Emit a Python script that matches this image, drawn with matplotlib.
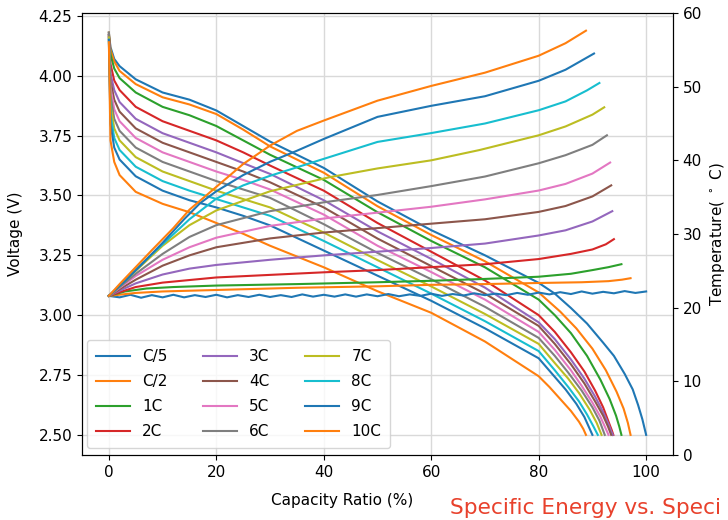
import numpy as np
import matplotlib
matplotlib.use("Agg")
import matplotlib.pyplot as plt

# discharge rates (legend order)
rates = ["C/5", "C/2", "1C", "2C", "3C", "4C", "5C", "6C", "7C", "8C", "9C", "10C"]
colors = ["C0", "C1", "C2", "C3", "C4", "C5", "C6", "C7", "C8", "C9", "C0", "C1"]

# voltage curves : capacity ratio (%) -> voltage (V)
head_x = [0, 0.3, 1, 2, 5, 10, 15, 20, 25, 30, 40, 50, 60, 70]

volt_cap = {
    "C/5": head_x + [80, 83, 86, 89, 92, 94, 96, 97.5, 98.5, 99.3, 100],
    "C/2": head_x + [80, 84, 87, 90, 92.5, 94.5, 95.8, 96.6, 97.1],
    "1C": head_x + [80, 83, 86, 89, 91.5, 93.2, 94.4, 95.0, 95.4],
    "2C": head_x + [80, 83, 86, 88.5, 90.5, 92, 93, 93.6, 93.9],
    "3C": head_x + [80, 83, 86, 88.5, 90.5, 92, 93, 93.5, 93.8],
    "4C": head_x + [80, 83, 86, 88.5, 90.5, 92, 92.9, 93.5],
    "5C": head_x + [80, 83, 86, 88, 90, 91.5, 92.4, 93.0],
    "6C": head_x + [80, 83, 85.5, 88, 90, 91.3, 92.3],
    "7C": head_x + [80, 83, 85.5, 87.5, 89.5, 90.8, 91.7],
    "8C": head_x + [80, 83, 85.5, 87.5, 89, 90.2, 91.0],
    "9C": head_x + [80, 82.5, 85, 87, 88.5, 89.4, 90.0],
    "10C": head_x + [80, 82, 84, 86, 87.5, 88.3, 88.8],
}

volt_val = {
    "C/5": [4.18, 4.12, 4.07, 4.04, 3.985, 3.93, 3.90, 3.855, 3.79, 3.725, 3.615, 3.475, 3.355, 3.25,
            3.135, 3.09, 3.03, 2.965, 2.885, 2.83, 2.755, 2.69, 2.625, 2.565, 2.50],
    "C/2": [4.18, 4.11, 4.06, 4.02, 3.965, 3.91, 3.88, 3.84, 3.775, 3.705, 3.595, 3.455, 3.335, 3.225,
            3.095, 3.015, 2.945, 2.86, 2.77, 2.68, 2.61, 2.55, 2.50],
    "1C": [4.17, 4.09, 4.03, 3.99, 3.93, 3.87, 3.835, 3.79, 3.73, 3.67, 3.565, 3.43, 3.31, 3.20,
           3.065, 3.00, 2.925, 2.83, 2.73, 2.65, 2.58, 2.535, 2.50],
    "2C": [4.17, 4.05, 3.98, 3.94, 3.87, 3.81, 3.77, 3.73, 3.68, 3.625, 3.52, 3.385, 3.265, 3.145,
           3.00, 2.93, 2.845, 2.765, 2.685, 2.615, 2.555, 2.52, 2.50],
    "3C": [4.17, 4.01, 3.94, 3.89, 3.82, 3.76, 3.72, 3.68, 3.635, 3.59, 3.48, 3.35, 3.235, 3.115,
           2.97, 2.90, 2.815, 2.735, 2.66, 2.595, 2.545, 2.515, 2.50],
    "4C": [4.16, 3.98, 3.90, 3.85, 3.78, 3.72, 3.68, 3.64, 3.60, 3.555, 3.45, 3.32, 3.205, 3.09,
           2.955, 2.88, 2.795, 2.715, 2.64, 2.58, 2.535, 2.50],
    "5C": [4.16, 3.95, 3.86, 3.81, 3.74, 3.68, 3.64, 3.60, 3.565, 3.525, 3.42, 3.29, 3.18, 3.065,
           2.93, 2.855, 2.77, 2.705, 2.635, 2.575, 2.53, 2.50],
    "6C": [4.18, 3.92, 3.82, 3.77, 3.70, 3.64, 3.60, 3.56, 3.525, 3.49, 3.38, 3.26, 3.15, 3.035,
           2.905, 2.83, 2.76, 2.685, 2.615, 2.56, 2.50],
    "7C": [4.16, 3.88, 3.78, 3.73, 3.66, 3.60, 3.56, 3.52, 3.485, 3.45, 3.345, 3.23, 3.12, 3.005,
           2.88, 2.80, 2.735, 2.675, 2.605, 2.55, 2.50],
    "8C": [4.15, 3.84, 3.74, 3.69, 3.62, 3.56, 3.52, 3.485, 3.45, 3.415, 3.31, 3.20, 3.09, 2.975,
           2.85, 2.77, 2.70, 2.64, 2.585, 2.535, 2.50],
    "9C": [4.15, 3.80, 3.70, 3.65, 3.58, 3.52, 3.48, 3.45, 3.415, 3.375, 3.27, 3.165, 3.06, 2.945,
           2.82, 2.755, 2.69, 2.63, 2.575, 2.53, 2.50],
    "10C": [4.14, 3.73, 3.64, 3.585, 3.515, 3.465, 3.43, 3.385, 3.34, 3.29, 3.20, 3.10, 3.01, 2.89,
            2.745, 2.70, 2.65, 2.60, 2.555, 2.525, 2.50],
}

# temperature curves : capacity ratio (%) -> temperature (deg C)
temp_cap = {
    "C/5": list(np.arange(0, 101, 2)),
    "C/2": [0, 5, 10, 20, 35, 50, 60, 70, 80, 88, 93, 95.5, 97.1],
    "1C": [0, 3, 7, 12, 20, 35, 50, 60, 70, 80, 86, 90, 93, 95.4],
    "2C": [0, 2, 5, 10, 20, 30, 40, 50, 60, 70, 80, 86, 90, 92.5, 94],
    "3C": [0, 2, 5, 10, 15, 20, 30, 40, 50, 60, 70, 80, 85, 90, 93.7],
    "4C": [0, 2, 5, 10, 15, 20, 30, 40, 50, 60, 70, 80, 85, 90, 93.5],
    "5C": [0, 2, 5, 10, 15, 20, 30, 40, 50, 60, 70, 80, 85, 90, 93.3],
    "6C": [0, 2, 5, 10, 15, 20, 30, 40, 50, 60, 70, 80, 85, 90, 92.7],
    "7C": [0, 2, 5, 10, 15, 20, 30, 41, 50, 60, 69, 80, 85, 90, 92.2],
    "8C": [0, 2, 5, 10, 15, 20, 25, 30, 40, 50, 60, 70, 80, 85, 89, 91.3],
    "9C": [0, 3, 6, 10, 14, 17, 20, 25, 30, 35, 40, 50, 60, 70, 80, 85, 90.3],
    "10C": [0, 2, 5, 8, 12, 15, 20, 25, 30, 35, 40, 50, 60, 70, 80, 85, 88.8],
}

temp_val = {
    "C/5": [21.6, 21.4, 21.75, 21.35, 21.7, 21.4, 21.75, 21.4, 21.7, 21.45,
            21.75, 21.4, 21.7, 21.45, 21.75, 21.45, 21.7, 21.45, 21.8, 21.5,
            21.75, 21.5, 21.8, 21.5, 21.8, 21.55, 21.85, 21.55, 21.8, 21.6,
            21.9, 21.6, 21.85, 21.65, 21.95, 21.7, 21.9, 21.7, 22.0, 21.75,
            22.05, 21.8, 22.1, 21.85, 22.2, 21.9, 22.15, 21.95, 22.25, 22.0,
            22.2],
    "C/2": [21.6, 22.0, 22.2, 22.4, 22.7, 22.9, 23.1, 23.2, 23.35, 23.45, 23.6, 23.8, 24.0],
    "1C": [21.6, 22.2, 22.6, 22.8, 23.0, 23.2, 23.45, 23.65, 23.9, 24.2, 24.6, 25.1, 25.5, 25.9],
    "2C": [21.6, 22.1, 22.8, 23.4, 24.1, 24.45, 24.8, 25.1, 25.5, 25.9, 26.6, 27.3, 27.9, 28.6, 29.3],
    "3C": [21.6, 22.3, 23.3, 24.5, 25.3, 25.8, 26.5, 27.1, 27.6, 28.1, 28.7, 29.8, 30.5, 31.7, 33.1],
    "4C": [21.6, 22.5, 23.8, 25.7, 27.1, 28.2, 29.4, 30.2, 30.8, 31.4, 32.0, 33.0, 33.8, 35.1, 36.6],
    "5C": [21.6, 22.7, 24.3, 26.5, 28.2, 29.5, 31.1, 32.1, 32.9, 33.7, 34.7, 35.9, 36.8, 38.2, 39.7],
    "6C": [21.6, 22.8, 24.6, 27.3, 29.6, 31.2, 33.1, 34.3, 35.3, 36.5, 37.8, 39.6, 40.7, 42.1, 43.4],
    "7C": [21.6, 22.9, 25.0, 28.4, 31.2, 33.2, 35.8, 37.7, 38.9, 40.0, 41.4, 43.4, 44.6, 46.2, 47.2],
    "8C": [21.6, 23.0, 25.2, 28.6, 32.0, 34.8, 36.6, 37.9, 40.2, 42.5, 43.7, 45.0, 46.8, 48.0, 49.5, 50.5],
    "9C": [21.6, 23.6, 25.8, 28.8, 32.0, 34.2, 35.8, 38.0, 39.8, 41.3, 42.9, 45.9, 47.4, 48.7, 50.8, 52.3, 54.5],
    "10C": [21.6, 23.2, 25.5, 27.8, 30.8, 33.3, 36.4, 39.5, 42.0, 44.0, 45.4, 48.1, 50.1, 51.9, 54.2, 55.9, 57.6],
}

plt.rcParams['font.family'] = ['DejaVu Sans']
plt.rcParams['font.size'] = 11

fig = plt.figure(figsize=(7.28, 5.2), dpi=100)
ax = fig.add_axes([82/728, 1-455/520, (673-82)/728, (455-13)/520])

for r, c in zip(rates, colors):
    ax.plot(volt_cap[r], volt_val[r], color=c, lw=1.5, label=r)

ax.set_ylim(2.416, 4.262)
ax.set_xlim(-5, 105)
ax.set_yticks([2.5, 2.75, 3.0, 3.25, 3.5, 3.75, 4.0, 4.25])
ax.set_xticks([0, 20, 40, 60, 80, 100])
ax.grid(True, color='#d9d9d9', lw=1)
ax.set_axisbelow(True)
ax.set_ylabel("Voltage (V)", fontsize=11)
ax.yaxis.set_label_coords(-0.1, 0.5)
ax.set_xlabel("Capacity Ratio (%)", fontsize=11)
ax.xaxis.set_label_coords(0.44, -0.085)

ax.legend(loc='lower left', ncol=3, fontsize=11, columnspacing=2.35,
          labelspacing=0.65, handlelength=2.2, borderpad=0.6, borderaxespad=0.45,
          bbox_to_anchor=(-0.003, 0.0))

ax2 = ax.twinx()
for r, c in zip(rates, colors):
    ax2.plot(temp_cap[r], temp_val[r], color=c, lw=1.5)
ax2.set_ylim(0, 60)
ax2.set_yticks([0, 10, 20, 30, 40, 50, 60])
ax2.set_ylabel("Temperature( $^\\circ$ C)", fontsize=11)

fig.text(450/728, 6/520, "Specific Energy vs. Speci", color='#e8412c',
         fontsize=15.6, va='baseline', ha='left')

fig.savefig("out.png", dpi=100)
